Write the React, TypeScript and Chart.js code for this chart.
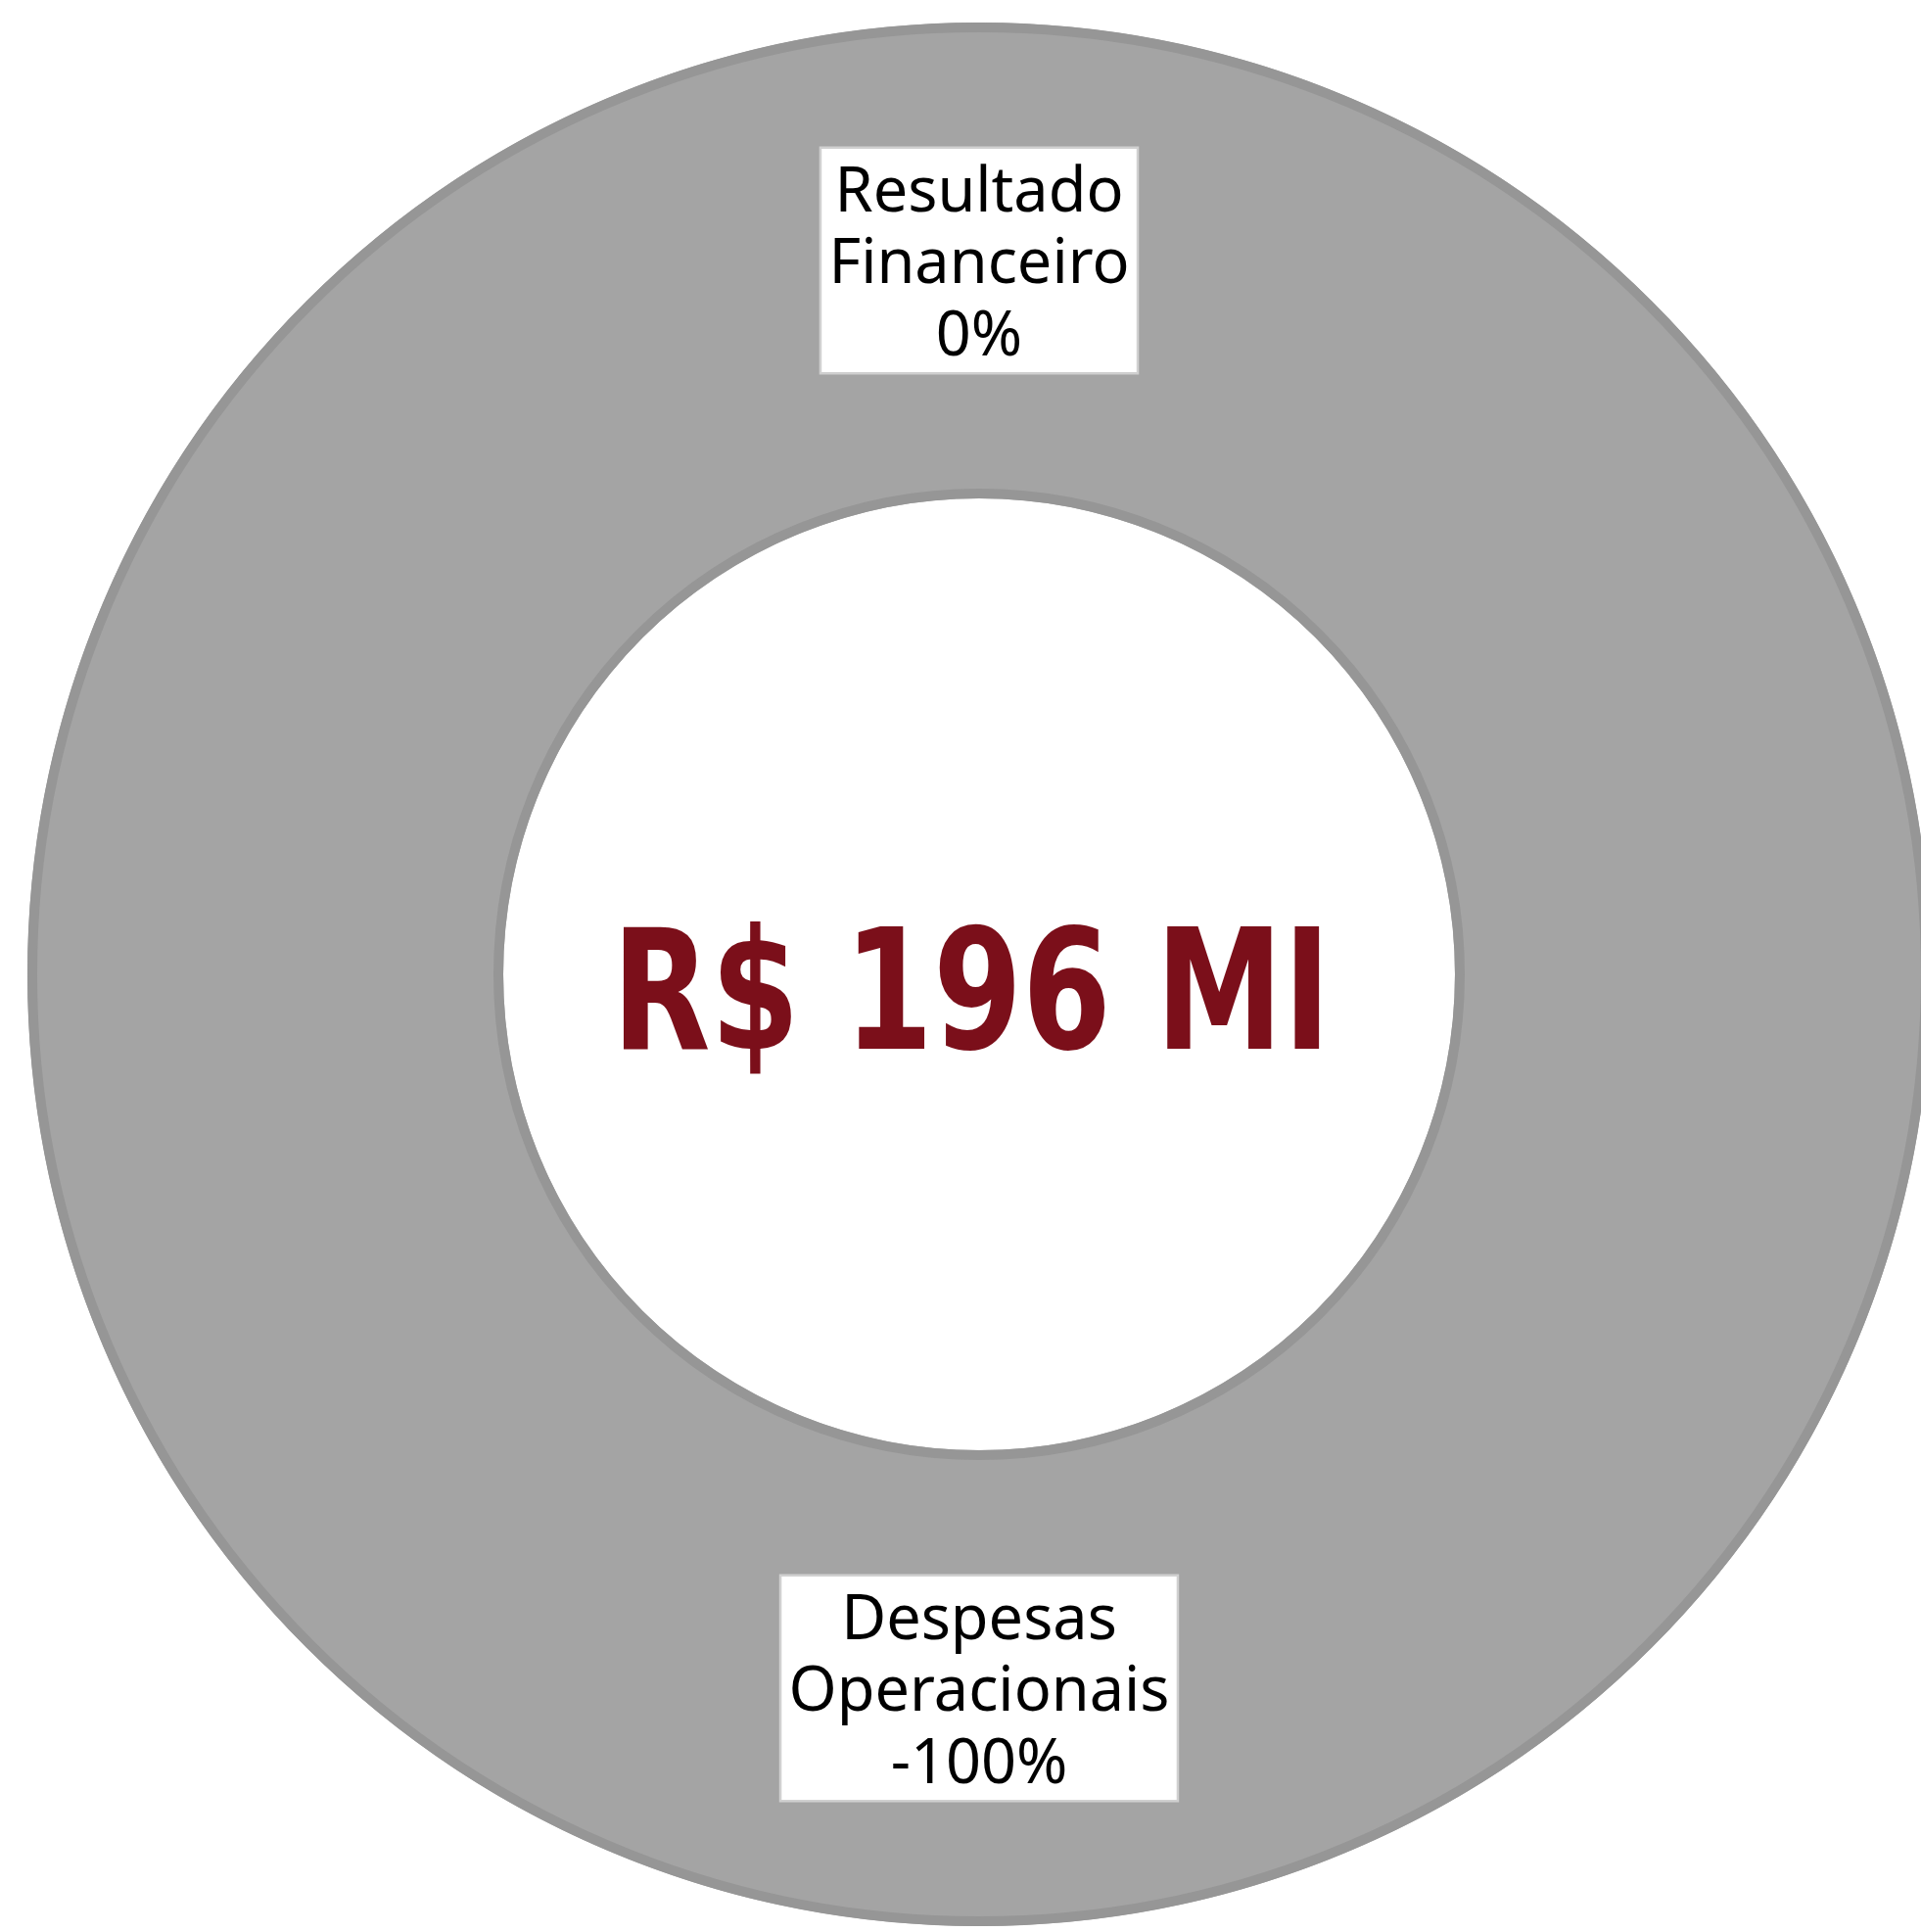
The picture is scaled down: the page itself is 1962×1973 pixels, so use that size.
import React, { useEffect, useRef } from "react";
import { Chart, registerables } from "chart.js";

Chart.register(...registerables);

const categories = ["Resultado Financeiro", "Despesas Operacionais"];
const labelLines = [
  ["Resultado", "Financeiro", "0%"],
  ["Despesas", "Operacionais", "-100%"],
];
const values = [0, -196];
const centerText = "R$ 196 MI";

const FILL = "#a4a4a4";
const RING_BORDER = "#969696";
const CENTER_COLOR = "#7b0f1a";

const ringBorderPlugin = {
  id: "ringBorder",
  afterDatasetsDraw(chart: any) {
    const meta = chart.getDatasetMeta(0);
    const arc = meta.data.find((a: any) => a.circumference > 0) || meta.data[0];
    if (!arc) return;
    const { x, y, outerRadius, innerRadius } = arc.getProps(
      ["x", "y", "outerRadius", "innerRadius"],
      true
    );
    const ctx = chart.ctx;
    ctx.save();
    ctx.strokeStyle = RING_BORDER;
    ctx.lineWidth = 10;
    ctx.beginPath();
    ctx.arc(x, y, outerRadius - 5, 0, Math.PI * 2);
    ctx.stroke();
    ctx.beginPath();
    ctx.arc(x, y, innerRadius + 5, 0, Math.PI * 2);
    ctx.stroke();
    ctx.restore();
  },
};

const labelsPlugin = {
  id: "boxLabels",
  afterDraw(chart: any) {
    const meta = chart.getDatasetMeta(0);
    const ctx = chart.ctx;
    ctx.save();
    const fontSize = 63;
    const lineH = 73.5;
    ctx.font = `${fontSize}px "Noto Sans"`;
    meta.data.forEach((arc: any, i: number) => {
      const { x, y, startAngle, endAngle, innerRadius, outerRadius } = arc.getProps(
        ["x", "y", "startAngle", "endAngle", "innerRadius", "outerRadius"],
        true
      );
      const mid = (startAngle + endAngle) / 2;
      const r = (innerRadius + outerRadius) / 2;
      const cx = x + Math.cos(mid) * r;
      const cy = y + Math.sin(mid) * r;
      const lines = labelLines[i];
      const w = Math.max(...lines.map((l) => ctx.measureText(l).width)) + 17;
      const h = lines.length * lineH + 10;
      ctx.fillStyle = "#ffffff";
      ctx.fillRect(cx - w / 2, cy - h / 2, w, h);
      ctx.strokeStyle = "#d0d0d0";
      ctx.lineWidth = 2.5;
      ctx.strokeRect(cx - w / 2, cy - h / 2, w, h);
      ctx.fillStyle = "#000000";
      ctx.textAlign = "center";
      ctx.textBaseline = "alphabetic";
      lines.forEach((l, j) => {
        ctx.fillText(l, cx, cy + (j - (lines.length - 1) / 2) * lineH + 23);
      });
    });
    // center text
    const arc0 = meta.data[0];
    if (arc0) {
      const { x, y } = arc0.getProps(["x", "y"], true);
      ctx.font = `bold 172px "DejaVu Sans", sans-serif`;
      try {
        (ctx as any).fontStretch = "condensed";
      } catch (e) {}
      const tw = ctx.measureText(centerText).width;
      const targetW = 734;
      const sx = targetW / tw;
      ctx.fillStyle = CENTER_COLOR;
      ctx.textAlign = "center";
      ctx.textBaseline = "alphabetic";
      ctx.translate(x - 8, y + 76);
      ctx.scale(sx, 1);
      ctx.fillText(centerText, 0, 0);
    }
    ctx.restore();
  },
};

export default function App() {
  const ref = useRef<HTMLCanvasElement>(null);
  useEffect(() => {
    if (!ref.current) return;
    const chart = new Chart(ref.current, {
      type: "doughnut",
      data: {
        labels: categories,
        datasets: [
          {
            data: values,
            backgroundColor: [FILL, FILL],
            borderWidth: 0,
            hoverBorderWidth: 0,
            hoverOffset: 0,
            offset: 0,
          },
        ],
      },
      options: {
        responsive: false,
        animation: false,
        cutout: "50%",
        layout: { padding: { left: 28, right: 28, top: 23, bottom: 23 } },
        plugins: {
          legend: { display: false },
          tooltip: { enabled: false },
        },
        events: [],
      },
      plugins: [ringBorderPlugin, labelsPlugin],
    });
    return () => chart.destroy();
  }, []);
  return (
    <div
      style={{
        position: "fixed",
        left: 0,
        top: 0,
        width: 1962,
        height: 1973,
        overflow: "hidden",
        background: "#ffffff",
      }}
    >
      <canvas
        ref={ref}
        width={2000}
        height={1990}
        style={{ position: "absolute", left: 0, top: 0, width: 2000, height: 1990 }}
      />
    </div>
  );
}
